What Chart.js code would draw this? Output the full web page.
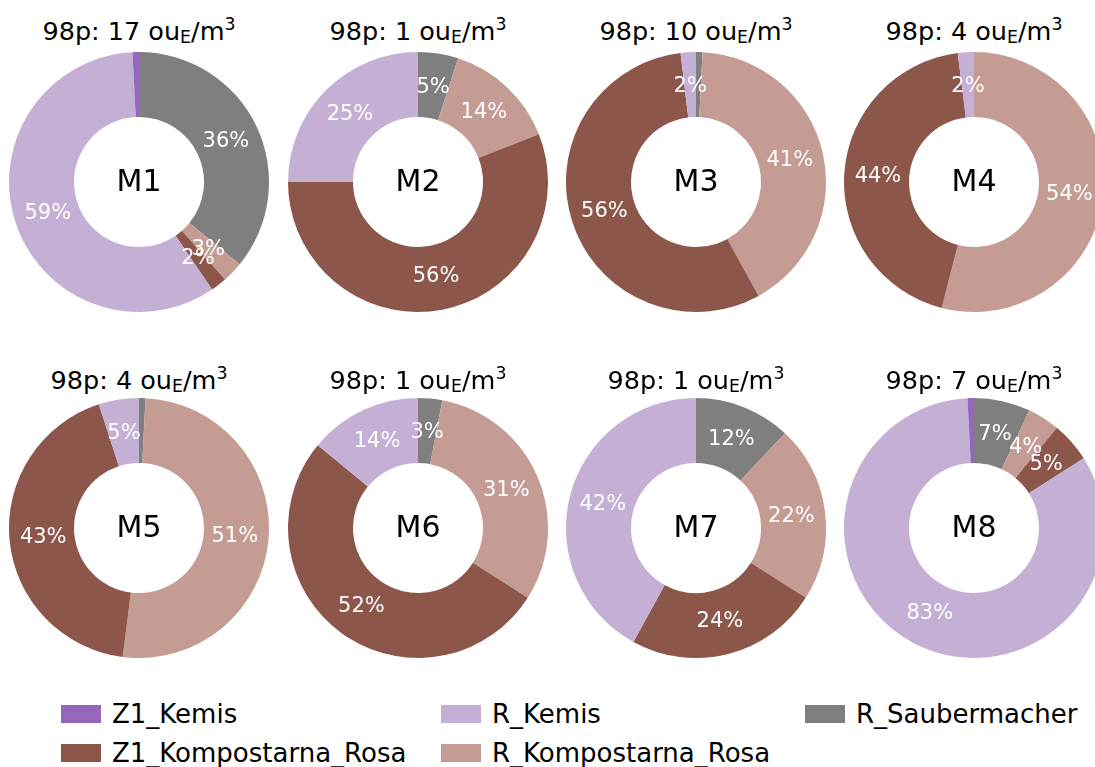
<!DOCTYPE html>
<html>
<head>
<meta charset="utf-8">
<script src="https://cdn.jsdelivr.net/npm/chart.js@4"></script>
<style>
  html, body { margin: 0; padding: 0; background: #fff; }
  body { width: 1095px; height: 767px; overflow: hidden; position: relative; font-family: 'DejaVu Sans', sans-serif; }
  canvas { position: absolute; }
  .title { position: absolute; width: 300px; text-align: center; font-size: 25.5px; line-height: 30px; color: #000; white-space: nowrap; }
  .title sub, .title sup { font-size: 0.68em; line-height: 0; position: relative; vertical-align: baseline; }
  .title sub { top: 0.18em; }
  .title sup { top: -0.6em; }
  .swatch { position: absolute; width: 40px; height: 18px; }
  .leg { position: absolute; font-size: 26px; line-height: 30px; white-space: nowrap; color: #000; }
</style>
</head>
<body>
<script>
// sites and 98th percentile values
const sites = ['M1', 'M2', 'M3', 'M4', 'M5', 'M6', 'M7', 'M8'];
const p98 = [17, 1, 10, 4, 4, 1, 1, 7];

// sources (legend order) and colours
const sources = ['Z1_Kemis', 'Z1_Kompostarna_Rosa', 'R_Kemis', 'R_Kompostarna_Rosa', 'R_Saubermacher'];
const colors = ['#9467bd', '#8c564b', '#c5b0d5', '#c49c94', '#7f7f7f'];

// share per site, in %
const z1Kemis = [0.8, 0, 0, 0, 0, 0, 0, 0.8];
const z1Kompostarna = [2.0, 56, 56.1, 44, 43, 52, 24, 5];
const rKemis = [58.7, 25, 1.9, 2, 5, 14, 42, 83.2];
const rKompostarna = [2.6, 14, 41.2, 54, 51.2, 31, 22, 4];
const rSaubermacher = [35.9, 5, 0.8, 0, 0.8, 3, 12, 7];

const series = [z1Kemis, z1Kompostarna, rKemis, rKompostarna, rSaubermacher];
// wedges go counter-clockwise from the top in the original, so draw them reversed
const drawOrder = [4, 3, 1, 2, 0];

const colX = [139, 418, 696, 974];
const rowY = [182, 528];
const titleBase = [40, 389];
const R = 130;

const labelPlugin = {
  id: 'pctLabels',
  afterDatasetsDraw(chart, args, opts) {
    const ctx = chart.ctx;
    const meta = chart.getDatasetMeta(0);
    const vals = chart.data.datasets[0].data;
    ctx.save();
    ctx.fillStyle = '#fff';
    ctx.font = '21px "DejaVu Sans"';
    ctx.textAlign = 'center';
    ctx.textBaseline = 'alphabetic';
    meta.data.forEach((arc, i) => {
      if (vals[i] < 1) return;
      const p = arc.getProps(['x', 'y', 'startAngle', 'endAngle', 'outerRadius'], true);
      const a = (p.startAngle + p.endAngle) / 2;
      const r = p.outerRadius * 0.74;
      ctx.fillText(Math.round(vals[i]) + '%', p.x + Math.cos(a) * r, p.y + Math.sin(a) * r + 6);
    });
    const c = meta.data[0];
    ctx.fillStyle = '#000';
    ctx.font = '30px "DejaVu Sans"';
    ctx.fillText(opts.text, c.x, c.y + 9);
    ctx.restore();
  }
};

sites.forEach((site, k) => {
  const cx = colX[k % 4];
  const cy = rowY[Math.floor(k / 4)];

  const t = document.createElement('div');
  t.className = 'title';
  t.style.left = (cx - 150) + 'px';
  t.style.top = (titleBase[Math.floor(k / 4)] - 24) + 'px';
  t.innerHTML = '98p: ' + p98[k] + ' ou<sub>E</sub>/m<sup>3</sup>';
  document.body.appendChild(t);

  const cv = document.createElement('canvas');
  cv.width = 270; cv.height = 270;
  cv.style.left = (cx - 135) + 'px';
  cv.style.top = (cy - 135) + 'px';
  document.body.appendChild(cv);

  new Chart(cv, {
    type: 'doughnut',
    data: {
      labels: drawOrder.map(i => sources[i]),
      datasets: [{
        data: drawOrder.map(i => series[i][k]),
        backgroundColor: drawOrder.map(i => colors[i]),
        borderWidth: 0
      }]
    },
    options: {
      responsive: false,
      animation: false,
      radius: R,
      cutout: '50%',
      layout: { padding: 0 },
      plugins: {
        legend: { display: false },
        tooltip: { enabled: false },
        pctLabels: { text: site }
      }
    },
    plugins: [labelPlugin]
  });
});

// legend, column-wise in 3 columns
const legX = [61, 441, 805];
const legBase = [723, 762];
sources.forEach((name, i) => {
  const col = Math.floor(i / 2), row = i % 2;
  const sw = document.createElement('div');
  sw.className = 'swatch';
  sw.style.background = colors[i];
  sw.style.left = legX[col] + 'px';
  sw.style.top = (legBase[row] - 18) + 'px';
  document.body.appendChild(sw);
  const tx = document.createElement('div');
  tx.className = 'leg';
  tx.textContent = name;
  tx.style.left = (legX[col] + 51) + 'px';
  tx.style.top = (legBase[row] - 24) + 'px';
  document.body.appendChild(tx);
});
</script>
</body>
</html>
